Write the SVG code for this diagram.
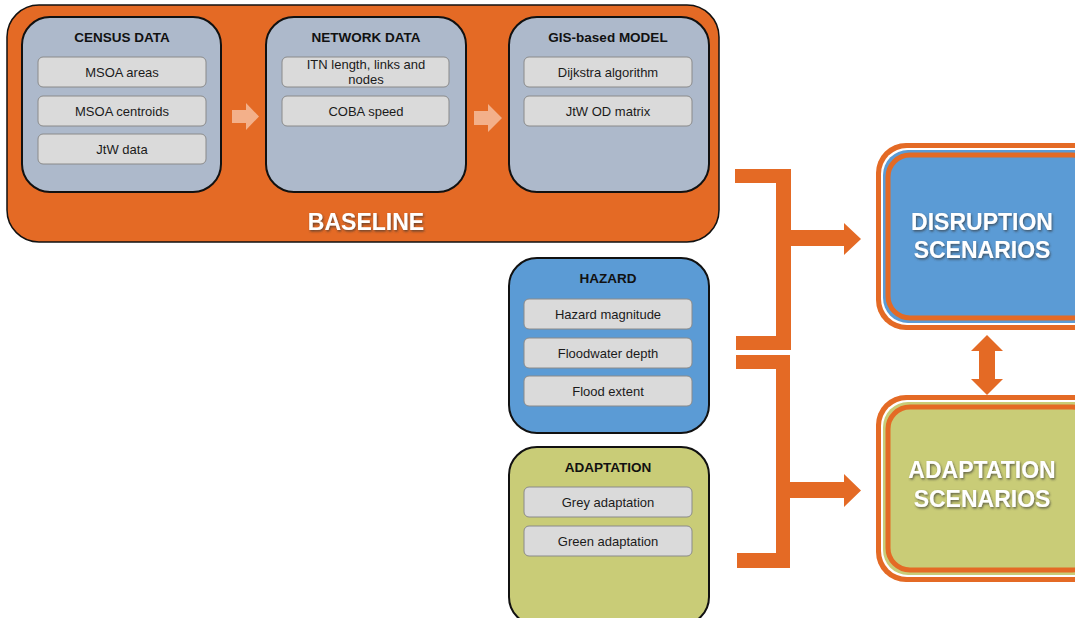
<svg xmlns="http://www.w3.org/2000/svg" width="1075" height="618" viewBox="0 0 1075 618">
  <defs>
    <filter id="shadow" x="-10%" y="-20%" width="120%" height="150%">
      <feDropShadow dx="1" dy="1.5" stdDeviation="0.8" flood-color="#333" flood-opacity="0.7"/>
    </filter>
  </defs>
  <style>
    .panel { stroke: #111; stroke-width: 2; }
    .grey { fill: #adb9cb; }
    .blue { fill: #5b9bd5; }
    .olive { fill: #c9cc77; }
    .item { fill: #dadada; stroke: #8a8a8a; stroke-width: 1; }
    .title { font-family: "Liberation Sans", Arial, sans-serif; font-weight: bold; font-size: 13.5px; fill: #111; text-anchor: middle; }
    .label { font-family: "Liberation Sans", Arial, sans-serif; font-size: 13px; fill: #1a1a1a; text-anchor: middle; }
    .big { font-family: "Liberation Sans", Arial, sans-serif; font-weight: bold; font-size: 23px; fill: #fff; text-anchor: middle; filter: url(#shadow); }
    .orange { fill: #e46a25; }
    .pale { fill: #f3b08a; }
  </style>

  <!-- Baseline container -->
  <g id="baseline">
    <rect x="7" y="5" width="712" height="237" rx="32" class="orange" stroke="#111" stroke-width="1.5"/>
    <text x="366" y="230" class="big">BASELINE</text>
  </g>

  <g id="census-data">
    <rect x="22" y="17" width="199" height="175" rx="28" class="panel grey"/>
    <text x="122" y="42" class="title">CENSUS DATA</text>
    <rect x="38" y="57" width="168" height="30" rx="5" class="item"/>
    <text x="122" y="77" class="label">MSOA areas</text>
    <rect x="38" y="96" width="168" height="30" rx="5" class="item"/>
    <text x="122" y="116" class="label">MSOA centroids</text>
    <rect x="38" y="134" width="168" height="30" rx="5" class="item"/>
    <text x="122" y="154" class="label">JtW data</text>
  </g>

  <g id="network-data">
    <rect x="266" y="17" width="200" height="175" rx="28" class="panel grey"/>
    <text x="366" y="42" class="title">NETWORK DATA</text>
    <rect x="282" y="57" width="167" height="30" rx="5" class="item"/>
    <text x="366" y="69" class="label">ITN length, links and</text>
    <text x="366" y="84" class="label">nodes</text>
    <rect x="282" y="96" width="167" height="30" rx="5" class="item"/>
    <text x="366" y="116" class="label">COBA speed</text>
  </g>

  <g id="gis-model">
    <rect x="509" y="17" width="200" height="175" rx="28" class="panel grey"/>
    <text x="608" y="42" class="title">GIS-based MODEL</text>
    <rect x="524" y="57" width="168" height="30" rx="5" class="item"/>
    <text x="608" y="77" class="label">Dijkstra algorithm</text>
    <rect x="524" y="96" width="168" height="30" rx="5" class="item"/>
    <text x="608" y="116" class="label">JtW OD matrix</text>
  </g>

  <g id="hazard">
    <rect x="509" y="258" width="200" height="175" rx="28" class="panel blue"/>
    <text x="608" y="283" class="title">HAZARD</text>
    <rect x="524" y="299" width="168" height="30" rx="5" class="item"/>
    <text x="608" y="319" class="label">Hazard magnitude</text>
    <rect x="524" y="338" width="168" height="30" rx="5" class="item"/>
    <text x="608" y="358" class="label">Floodwater depth</text>
    <rect x="524" y="376" width="168" height="30" rx="5" class="item"/>
    <text x="608" y="396" class="label">Flood extent</text>
  </g>

  <g id="adaptation">
    <rect x="509" y="447" width="200" height="178" rx="28" class="panel olive"/>
    <text x="608" y="472" class="title">ADAPTATION</text>
    <rect x="524" y="487" width="168" height="30" rx="5" class="item"/>
    <text x="608" y="507" class="label">Grey adaptation</text>
    <rect x="524" y="526" width="168" height="30" rx="5" class="item"/>
    <text x="608" y="546" class="label">Green adaptation</text>
  </g>

  <g id="disruption-scenarios">
    <rect x="876" y="143" width="230" height="187" rx="30" class="orange"/>
    <rect x="881" y="148" width="220" height="177" rx="26" fill="#fff"/>
    <rect x="883" y="150" width="216" height="173" rx="25" class="blue"/>
    <rect x="888" y="155" width="206" height="163" rx="22" class="blue" stroke="#e46a25" stroke-width="5"/>
    <text x="982" y="230" class="big">DISRUPTION</text>
    <text x="982" y="258" class="big">SCENARIOS</text>
  </g>

  <g id="adaptation-scenarios">
    <rect x="876" y="395" width="230" height="187" rx="30" class="orange"/>
    <rect x="881" y="400" width="220" height="177" rx="26" fill="#fff"/>
    <rect x="883" y="402" width="216" height="173" rx="25" class="olive"/>
    <rect x="888" y="407" width="206" height="163" rx="22" class="olive" stroke="#e46a25" stroke-width="5"/>
    <text x="982" y="478" class="big">ADAPTATION</text>
    <text x="982" y="507" class="big">SCENARIOS</text>
  </g>

  <g id="connectors">
    <!-- flow arrows inside the baseline -->
    <polygon class="pale" points="232,110 246,110 246,103 259,116.5 246,130 246,123 232,123"/>
    <polygon class="pale" points="474,111 488,111 488,104 502,118 488,132 488,125 474,125"/>
    <!-- bracket from baseline and hazard to disruption -->
    <polygon class="orange" points="735,169 791,169 791,230 844,230 844,223 861,239 844,255 844,246 791,246 791,350 736,350 736,336 776,336 776,183 735,183"/>
    <!-- bracket from hazard and adaptation to adaptation scenarios -->
    <polygon class="orange" points="736,355 790,355 790,482 844,482 844,474 861,490.5 844,507 844,498 790,498 790,568 737,568 737,553 776,553 776,369 736,369"/>
    <!-- two-way link between the scenario boxes -->
    <polygon class="orange" points="987,335 1003,351 995,351 995,379 1003,379 987,395 971,379 979,379 979,351 971,351"/>
  </g>
</svg>
